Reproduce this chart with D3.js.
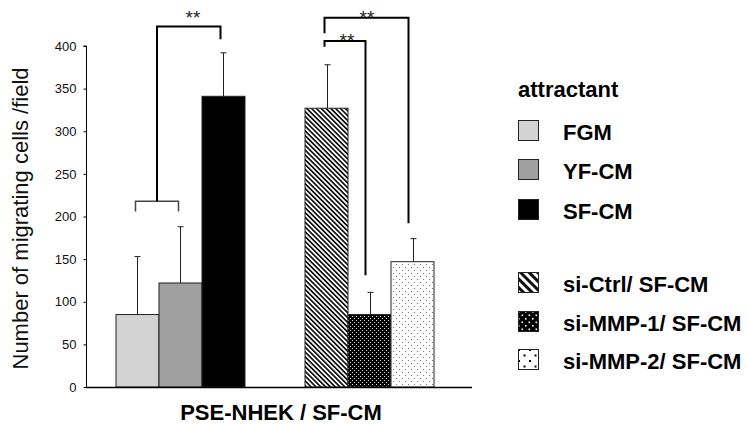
<!DOCTYPE html>
<html>
<head>
<meta charset="utf-8">
<script src="https://cdn.jsdelivr.net/npm/d3@7"></script>
<style>
  body { margin: 0; background: #fff; }
  svg { display: block; font-family: "Liberation Sans", Arial, sans-serif; }
</style>
</head>
<body>
<svg id="chart" width="747" height="425"></svg>
<script>
// datos
let groups = ['attractant', 'siRNA'];
let attractantLabels = ['FGM', 'YF-CM', 'SF-CM'];
let attractantMeans = [85, 122, 341];
let attractantErr = [68, 66, 51];
let siLabels = ['si-Ctrl/ SF-CM', 'si-MMP-1/ SF-CM', 'si-MMP-2/ SF-CM'];
let siMeans = [327, 85, 147];
let siErr = [51, 26, 27];
let yTicks = [0, 50, 100, 150, 200, 250, 300, 350, 400];
let yTitle = 'Number of migrating cells /field';
let xTitle = 'PSE-NHEK / SF-CM';
let legendTitle = 'attractant';

let svg = d3.select('#chart');

// patrones de relleno
let defs = svg.append('defs');
let stripes = (id, size) => {
    let p = defs.append('pattern').attr('id', id).attr('patternUnits', 'userSpaceOnUse')
        .attr('width', size).attr('height', size).attr('patternTransform', 'rotate(-45)');
    p.append('rect').attr('width', size).attr('height', size).attr('fill', '#fff');
    p.append('rect').attr('width', size / 2).attr('height', size).attr('fill', '#111');
};
stripes('stripeBar', 3.4);
stripes('stripeLeg', 6);

let dots = (id, size, bg, fg, r) => {
    let p = defs.append('pattern').attr('id', id).attr('patternUnits', 'userSpaceOnUse')
        .attr('width', size).attr('height', size);
    p.append('rect').attr('width', size).attr('height', size).attr('fill', bg);
    p.append('rect').attr('x', 0).attr('y', 0).attr('width', r).attr('height', r).attr('fill', fg);
    p.append('rect').attr('x', size / 2).attr('y', size / 2).attr('width', r).attr('height', r).attr('fill', fg);
};
dots('dotBlackBar', 4, '#000', '#ddd', 1);
dots('dotBlackLeg', 7, '#000', '#fff', 1.6);
dots('dotWhiteBar', 6, '#fff', '#777', 1);
dots('dotWhiteLeg', 11, '#fff', '#000', 2);

let fillsBar = ['#d3d3d3', '#a0a0a0', '#000', 'url(#stripeBar)', 'url(#dotBlackBar)', 'url(#dotWhiteBar)'];
let fillsLeg = ['#d3d3d3', '#a0a0a0', '#000', 'url(#stripeLeg)', 'url(#dotBlackLeg)', 'url(#dotWhiteLeg)'];

// escalas
let y = d3.scaleLinear().domain([0, 400]).range([387, 46]);
let xGroup = d3.scaleBand().domain(groups).range([116, 434]).paddingInner(0.3175);
let xInner = d3.scaleBand().domain([0, 1, 2]).range([0, xGroup.bandwidth()]);

let bars = [];
attractantLabels.forEach((l, i) => bars.push({ group: 'attractant', i: i, label: l, mean: attractantMeans[i], err: attractantErr[i], fill: fillsBar[i] }));
siLabels.forEach((l, i) => bars.push({ group: 'siRNA', i: i, label: l, mean: siMeans[i], err: siErr[i], fill: fillsBar[3 + i] }));
let xPos = d => xGroup(d.group) + xInner(d.i);
let xMid = (g, i) => xGroup(g) + xInner(i) + xInner.bandwidth() / 2;

// barras de error (solo hacia arriba)
let eb = svg.append('g').attr('stroke', '#222').attr('stroke-width', 1);
bars.forEach(d => {
    let cx = Math.round(xMid(d.group, d.i)) + 0.5;
    eb.append('line').attr('x1', cx).attr('x2', cx).attr('y1', y(d.mean)).attr('y2', y(d.mean + d.err));
    eb.append('line').attr('x1', cx - 3).attr('x2', cx + 3).attr('y1', y(d.mean + d.err)).attr('y2', y(d.mean + d.err));
});

svg.append('g').selectAll('rect').data(bars).enter().append('rect')
    .attr('x', d => xPos(d))
    .attr('y', d => y(d.mean))
    .attr('width', xInner.bandwidth())
    .attr('height', d => y(0) - y(d.mean))
    .attr('fill', d => d.fill)
    .attr('stroke', '#222')
    .attr('stroke-width', 1);

// eje y
let yAxis = d3.axisLeft(y).tickValues(yTicks).tickSize(3).tickPadding(7);
let ga = svg.append('g').attr('transform', 'translate(86.5,0)').call(yAxis);
ga.select('.domain').attr('d', `M-3,${y(400)}H0V${y(0)}`).attr('stroke', '#000');
ga.selectAll('.tick line').attr('stroke', '#000');
ga.selectAll('.tick text').attr('font-size', 13).attr('fill', '#111').attr('font-family', '"Liberation Sans", Arial, sans-serif');

// linea base
svg.append('line').attr('x1', 86).attr('x2', 472).attr('y1', y(0) + 0.5).attr('y2', y(0) + 0.5)
    .attr('stroke', '#000').attr('stroke-width', 1.5);

// titulos de ejes
svg.append('text').attr('transform', `translate(28,${(y(0) + y(400)) / 2 + 2}) rotate(-90)`)
    .attr('text-anchor', 'middle').attr('font-size', 22).attr('fill', '#111').text(yTitle);
svg.append('text').attr('x', 281).attr('y', 420).attr('text-anchor', 'middle')
    .attr('font-size', 22).attr('font-weight', 'bold').attr('fill', '#000').text(xTitle);

// corchetes de significancia
let sig = svg.append('g').attr('fill', 'none').attr('stroke', '#000').attr('stroke-width', 2);
let fgmX = xMid('attractant', 0), yfX = xMid('attractant', 1), sfX = xMid('attractant', 2);
let ctrlX = xMid('siRNA', 0) - 2, mmp1X = xMid('siRNA', 1) - 4, mmp2X = xMid('siRNA', 2) - 4;
let midX = (fgmX + yfX) / 2;
sig.append('path').attr('stroke-width', 1.5).attr('stroke', '#444')
    .attr('d', `M${fgmX - 2},${y(206)}V${y(218)}H${yfX - 2}V${y(206)}`);
sig.append('path').attr('d', `M${midX - 2},${y(218)}V${y(423)}H${sfX - 3}V${y(408)}`);
sig.append('path').attr('d', `M${ctrlX},${y(415)}V${y(433)}H${mmp2X}V${y(192)}`);
sig.append('path').attr('d', `M${ctrlX},${y(399)}V${y(406)}H${mmp1X}V${y(131)}`);

let star = (x, yy) => svg.append('text').attr('x', x).attr('y', yy).attr('text-anchor', 'middle')
    .attr('font-size', 19).attr('fill', '#222').text('**');
star(193, 24);
star(367, 24);
star(347, 47);

// leyenda
let legend = svg.append('g');
legend.append('text').attr('x', 518).attr('y', 97).attr('font-size', 22).attr('font-weight', 'bold')
    .attr('fill', '#000').text(legendTitle);
let legItems = attractantLabels.concat(siLabels).map((l, i) => ({ label: l, fill: fillsLeg[i], i: i }));
let legY = [120, 159, 199, 272, 311, 349];
let li = legend.selectAll('g.item').data(legItems).enter().append('g')
    .attr('transform', d => `translate(518,${legY[d.i]})`);
li.append('rect').attr('x', 0.5).attr('y', 0.5).attr('width', 20).attr('height', 20)
    .attr('fill', d => d.fill).attr('stroke', '#222').attr('stroke-width', 1);
li.append('text').attr('x', 45).attr('y', 20).attr('font-size', 22).attr('font-weight', 'bold')
    .attr('fill', '#000').text(d => d.label);
</script>
</body>
</html>
